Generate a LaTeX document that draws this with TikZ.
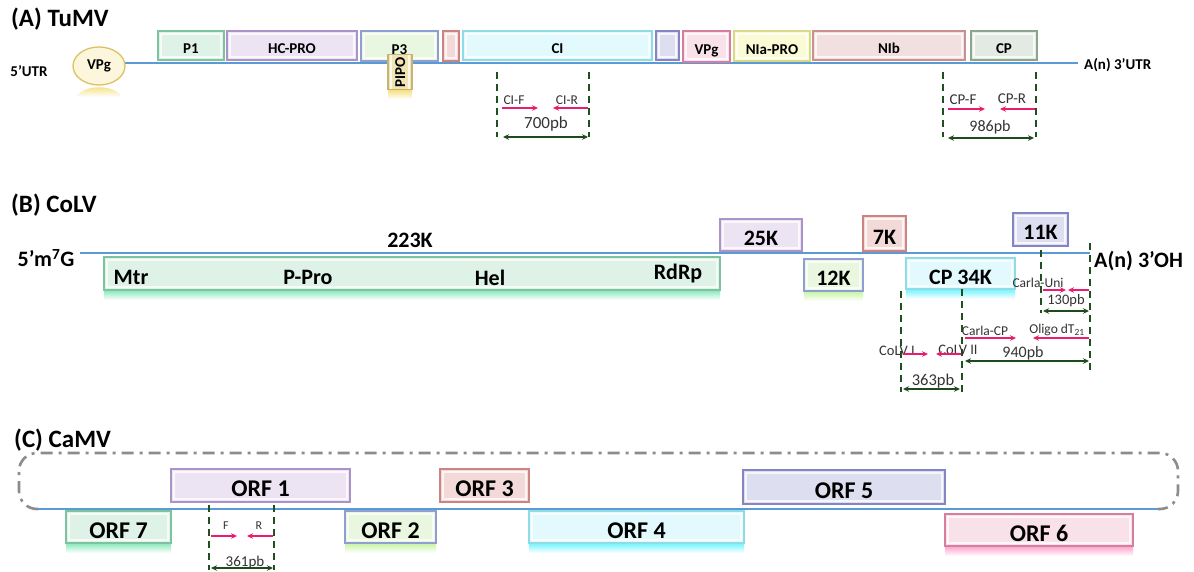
\documentclass[tikz,border=0pt]{standalone}
\usepackage{fontspec}
\setmainfont{Carlito}
\usetikzlibrary{arrows.meta,shapes.geometric}
\definecolor{rnablue}{HTML}{5B9BD5}
\definecolor{dkgreen}{HTML}{1E5020}
\definecolor{spangreen}{HTML}{1E4A1E}
\definecolor{primer}{HTML}{EC1B6C}
\definecolor{labgrey}{HTML}{333333}
\definecolor{dashgrey}{HTML}{8C8C8C}
\definecolor{grnF}{HTML}{DFF2E8}\definecolor{grnB}{HTML}{7DC3A0}
\definecolor{purF}{HTML}{ECE4F3}\definecolor{purB}{HTML}{A993C7}
\definecolor{ltgF}{HTML}{EAF7E0}\definecolor{ltgB}{HTML}{8F9FCF}
\definecolor{redF}{HTML}{F3D9D8}\definecolor{redB}{HTML}{CC8482}
\definecolor{cyaF}{HTML}{E2FAFD}\definecolor{cyaB}{HTML}{8FDCE6}
\definecolor{bluF}{HTML}{DEDEF1}\definecolor{bluB}{HTML}{8585C4}
\definecolor{pnkF}{HTML}{F9E1EA}\definecolor{pnkB}{HTML}{D57E9E}
\definecolor{yelF}{HTML}{FAFAD4}\definecolor{yelB}{HTML}{D9D98A}
\definecolor{nibF}{HTML}{F2DFDF}\definecolor{nibB}{HTML}{C99090}
\definecolor{cpF}{HTML}{E3E9E3}\definecolor{cpB}{HTML}{8CA58C}
\definecolor{tanF}{HTML}{F0E4B4}\definecolor{tanB}{HTML}{C9B374}
\definecolor{vpgF}{HTML}{FCF7DC}\definecolor{vpgB}{HTML}{DDC165}
\definecolor{glowgrn}{HTML}{5EE0A0}\definecolor{glowcya}{HTML}{40F0FF}
\definecolor{glowpnk}{HTML}{FF80B8}\definecolor{glowltg}{HTML}{B0F080}
\definecolor{glowyel}{HTML}{F0D040}
\newcommand{\gbox}[7]{\node[gene, draw=#6B, fill=#6F, minimum width={(#4-#2)*1pt}, minimum height={(#5-#3)*1pt}] (#1) at ({(#2+#4)/2},{(#3+#5)/2}) {#7};}
\newcommand{\glow}[4]{\fill[top color=#4!75, bottom color=white] (#1,#3) rectangle (#2,{#3+10});}
\begin{document}
\begin{tikzpicture}[x=1pt,y=-1pt,
  gene/.style={line width=1.3pt, inner sep=0pt, outer sep=0pt, text=black, text depth=0pt,
    path picture={\draw[white, line width=1.2pt, opacity=0.75] ([shift={(3pt,-3pt)}]path picture bounding box.north west) rectangle ([shift={(-3pt,3pt)}]path picture bounding box.south east);}},
  rna/.style={draw=rnablue, line width=2.8pt},
  vdash/.style={draw=dkgreen, line width=2.4pt, dash pattern=on 7pt off 5pt},
  fwd/.style={draw=primer, line width=1.5pt, -{Stealth[length=6pt,width=5.5pt]}},
  span/.style={draw=spangreen, line width=1.8pt, {Stealth[length=6pt,width=5.5pt]}-{Stealth[length=6pt,width=5.5pt]}},
  plab/.style={text=labgrey, inner sep=0pt},
  title/.style={font=\bfseries\fontsize{25}{25}\selectfont, anchor=west, inner sep=0pt},
  ]
\useasboundingbox[fill=white] (0,0) rectangle (1194,572);

%================ (A) TuMV
\node[title] (titleA) at (11,19) {(A) TuMV};
\node[font=\bfseries\fontsize{15}{15}\selectfont, inner sep=0pt] (utr5) at (29,71) {5’UTR};
\coordinate (a0) at (125,63);
\coordinate (a1) at (1078,63);
\draw[rna, line width=1.6pt] (a0) -- (a1);
\shade[top color=glowyel!80, bottom color=white] (76,97) .. controls (84,84) and (114,84) .. (122,97) -- cycle;
\node[ellipse, draw=vpgB, fill=vpgF, line width=1.3pt, minimum width=52pt, minimum height=38pt, inner sep=0pt, font=\bfseries\fontsize{15}{15}\selectfont] (vpgA) at (99,66) {VPg};
\begin{scope}[gene/.append style={font=\bfseries\fontsize{15}{15}\selectfont, text height=17pt}]
\gbox{p1}{158}{31}{224}{60}{grn}{P1}
\gbox{hcpro}{227}{31}{357}{60}{pur}{HC-PRO}
\gbox{p3}{361}{31}{438}{61}{ltg}{P3}
\glow{388}{412}{89}{glowyel}
\node[gene, draw=tanB, fill=tanF, rotate=90, minimum width=35pt, minimum height=24pt, text height=10pt] (pipo) at (400,72) {PIPO};
\gbox{sred}{443}{31}{459}{61}{red}{}
\gbox{ci}{463}{31}{652}{60}{cya}{CI}
\gbox{sblu}{656}{31}{679}{60}{blu}{}
\gbox{vpg}{683}{31}{730}{62}{pnk}{VPg}
\gbox{nia}{734}{31}{810}{61}{yel}{NIa-PRO}
\gbox{nib}{813}{31}{965}{60}{nib}{NIb}
\gbox{cp}{971}{31}{1037}{60}{cp}{CP}
\end{scope}
\node[font=\bfseries\fontsize{15}{15}\selectfont, anchor=west, inner sep=0pt] (utr3) at (1084,65) {A(n) 3’UTR};

% CI primers
\coordinate (ciLt) at (497,72); \coordinate (ciLb) at (497,137);
\coordinate (ciRt) at (589,72); \coordinate (ciRb) at (589,137);
\draw[vdash] (ciLt) -- (ciLb);
\draw[vdash] (ciRt) -- (ciRb);
\node[plab, font=\fontsize{13.5}{13.5}\selectfont] (cifl) at (514,100) {CI-F};
\node[plab, font=\fontsize{13.5}{13.5}\selectfont] (cirl) at (567,100) {CI-R};
\coordinate (cif0) at (502,108); \coordinate (cif1) at (538,108);
\coordinate (cir0) at (588,108); \coordinate (cir1) at (553,108);
\draw[fwd] (cif0) -- (cif1);
\draw[fwd] (cir0) -- (cir1);
\node[plab, font=\fontsize{17}{17}\selectfont] (ci700) at (546,124) {700pb};
\coordinate (cis0) at (503,137); \coordinate (cis1) at (588,137);
\draw[span] (cis0) -- (cis1);

% CP primers
\coordinate (cpLt) at (943,72); \coordinate (cpLb) at (943,137);
\coordinate (cpRt) at (1036,72); \coordinate (cpRb) at (1036,137);
\draw[vdash] (cpLt) -- (cpLb);
\draw[vdash] (cpRt) -- (cpRb);
\node[plab, font=\fontsize{15}{15}\selectfont] (cpfl) at (963,100) {CP-F};
\node[plab, font=\fontsize{15}{15}\selectfont] (cprl) at (1012,99) {CP-R};
\coordinate (cpf0) at (948,109); \coordinate (cpf1) at (985,109);
\coordinate (cpr0) at (1035,109); \coordinate (cpr1) at (1000,109);
\draw[fwd] (cpf0) -- (cpf1);
\draw[fwd] (cpr0) -- (cpr1);
\node[plab, font=\fontsize{16}{16}\selectfont] (cp986) at (990,127) {986pb};
\coordinate (cps0) at (948,138); \coordinate (cps1) at (1034,138);
\draw[span] (cps0) -- (cps1);

%================ (B) CoLV
\node[title] (titleB) at (11,205) {(B) CoLV};
\node[font=\bfseries\fontsize{22}{22}\selectfont, inner sep=0pt] (m7g) at (46,258) {5’m\textsuperscript{7}G};
\glow{104}{720}{290}{glowgrn}
\glow{804}{863}{291}{glowltg}
\glow{906}{1015}{289}{glowcya}
\begin{scope}[gene/.append style={font=\bfseries\fontsize{22}{22}\selectfont, text height=21pt}]
\gbox{k223}{104}{257}{720}{290}{grn}{}
\gbox{k25}{720}{219}{802}{251}{pur}{25K}
\gbox{k7}{863}{216}{906}{251}{red}{7K}
\gbox{k11}{1013}{213}{1068}{246}{blu}{11K}
\gbox{k12}{804}{259}{863}{291}{ltg}{12K}
\gbox{cp34}{906}{258}{1015}{289}{cya}{CP 34K}
\end{scope}
\coordinate (b0) at (80,253);
\coordinate (b1) at (1090,253);
\draw[rna] (b0) -- (b1);
\begin{scope}[every node/.style={font=\bfseries\fontsize{22}{22}\selectfont, inner sep=0pt}]
\node (k223l) at (410,240) {223K};
\node (mtr) at (131,277) {Mtr};
\node (ppro) at (308,277) {P-Pro};
\node (hel) at (490,278) {Hel};
\node (rdrp) at (678,274) {RdRp};
\node[anchor=west] (oh3) at (1094,261) {A(n) 3’OH};
\end{scope}

% Carla-Uni / Oligo
\coordinate (u1t) at (1041,250); \coordinate (u1b) at (1041,313);
\coordinate (u2t) at (1090,243); \coordinate (u2b) at (1090,373);
\coordinate (c1t) at (901,291); \coordinate (c1b) at (901,392);
\coordinate (c2t) at (962,289); \coordinate (c2b) at (962,392);
\draw[vdash] (u1t) -- (u1b);
\draw[vdash] (u2t) -- (u2b);
\draw[vdash] (c1t) -- (c1b);
\draw[vdash] (c2t) -- (c2b);
\node[plab, font=\fontsize{13.5}{13.5}\selectfont] (unil) at (1038,283) {Carla-Uni};
\coordinate (uf0) at (1043,290); \coordinate (uf1) at (1066,290);
\coordinate (ur0) at (1089,290); \coordinate (ur1) at (1068,290);
\draw[fwd] (uf0) -- (uf1);
\draw[fwd] (ur0) -- (ur1);
\node[plab, font=\fontsize{14.5}{14.5}\selectfont] (u130) at (1066,301) {130pb};
\coordinate (us0) at (1043,311); \coordinate (us1) at (1089,311);
\draw[span] (us0) -- (us1);

\node[plab, font=\fontsize{13.5}{13.5}\selectfont] (ccpl) at (985,331) {Carla-CP};
\node[plab, font=\fontsize{13.5}{13.5}\selectfont] (oligol) at (1057,330) {Oligo dT\textsubscript{21}};
\coordinate (ccf0) at (965,338); \coordinate (ccf1) at (1016,338);
\coordinate (ol0) at (1089,338); \coordinate (ol1) at (1033,338);
\draw[fwd] (ccf0) -- (ccf1);
\draw[fwd] (ol0) -- (ol1);

\node[plab, font=\fontsize{14.5}{14.5}\selectfont] (colv1l) at (897,351) {CoLV I};
\node[plab, font=\fontsize{14.5}{14.5}\selectfont] (colv2l) at (958,350) {CoLV II};
\coordinate (cv1a) at (903,354); \coordinate (cv1b) at (928,354);
\coordinate (cv2a) at (961,354); \coordinate (cv2b) at (936,354);
\draw[fwd] (cv1a) -- (cv1b);
\draw[fwd] (cv2a) -- (cv2b);
\node[plab, font=\fontsize{16}{16}\selectfont] (p940) at (1023,353) {940pb};
\coordinate (s940a) at (965,361); \coordinate (s940b) at (1089,361);
\draw[span] (s940a) -- (s940b);
\node[plab, font=\fontsize{16.5}{16.5}\selectfont] (p363) at (933,381) {363pb};
\coordinate (s363a) at (903,389); \coordinate (s363b) at (960,389);
\draw[span] (s363a) -- (s363b);

%================ (C) CaMV
\node[title] (titleC) at (14,440) {(C) CaMV};
\coordinate (cl0) at (38,509);
\coordinate (cl1) at (1158,509);
\coordinate (ctl) at (19,453);
\coordinate (cbr) at (1178,509);
\draw[dashgrey, line width=2.6pt, dash pattern=on 12pt off 6pt on 3pt off 6pt, rounded corners=18pt] (cl0) -| (ctl) -| (cbr) -- (cl1);
\draw[rna] (cl0) -- (cl1);
\glow{66}{171}{543}{glowgrn}
\glow{345}{436}{543}{glowltg}
\glow{529}{744}{543}{glowcya}
\glow{945}{1133}{546}{glowpnk}
\begin{scope}[gene/.append style={font=\bfseries\fontsize{24}{24}\selectfont, text height=22.5pt}]
\gbox{orf1}{171}{469}{350}{502}{pur}{ORF 1}
\gbox{orf7}{66}{511}{171}{543}{grn}{ORF 7}
\gbox{orf2}{345}{511}{436}{543}{ltg}{ORF 2}
\gbox{orf3}{440}{469}{529}{502}{red}{ORF 3}
\gbox{orf4}{529}{511}{744}{543}{cya}{ORF 4}
\gbox{orf5}{743}{470}{945}{504}{blu}{ORF 5}
\gbox{orf6}{945}{514}{1133}{546}{pnk}{ORF 6}
\end{scope}
\coordinate (fLt) at (209,505); \coordinate (fLb) at (209,570);
\coordinate (fRt) at (274,505); \coordinate (fRb) at (274,570);
\draw[vdash] (fLt) -- (fLb);
\draw[vdash] (fRt) -- (fRb);
\node[plab, font=\fontsize{12}{12}\selectfont] (fl) at (226,526) {F};
\node[plab, font=\fontsize{12}{12}\selectfont] (rl) at (259,526) {R};
\coordinate (ff0) at (211,536); \coordinate (ff1) at (237,536);
\coordinate (rr0) at (273,536); \coordinate (rr1) at (247,536);
\draw[fwd] (ff0) -- (ff1);
\draw[fwd] (rr0) -- (rr1);
\node[plab, font=\fontsize{15}{15}\selectfont] (p361) at (245,562) {361pb};
\coordinate (s361a) at (211,568); \coordinate (s361b) at (273,568);
\draw[span] (s361a) -- (s361b);
\end{tikzpicture}
\end{document}
